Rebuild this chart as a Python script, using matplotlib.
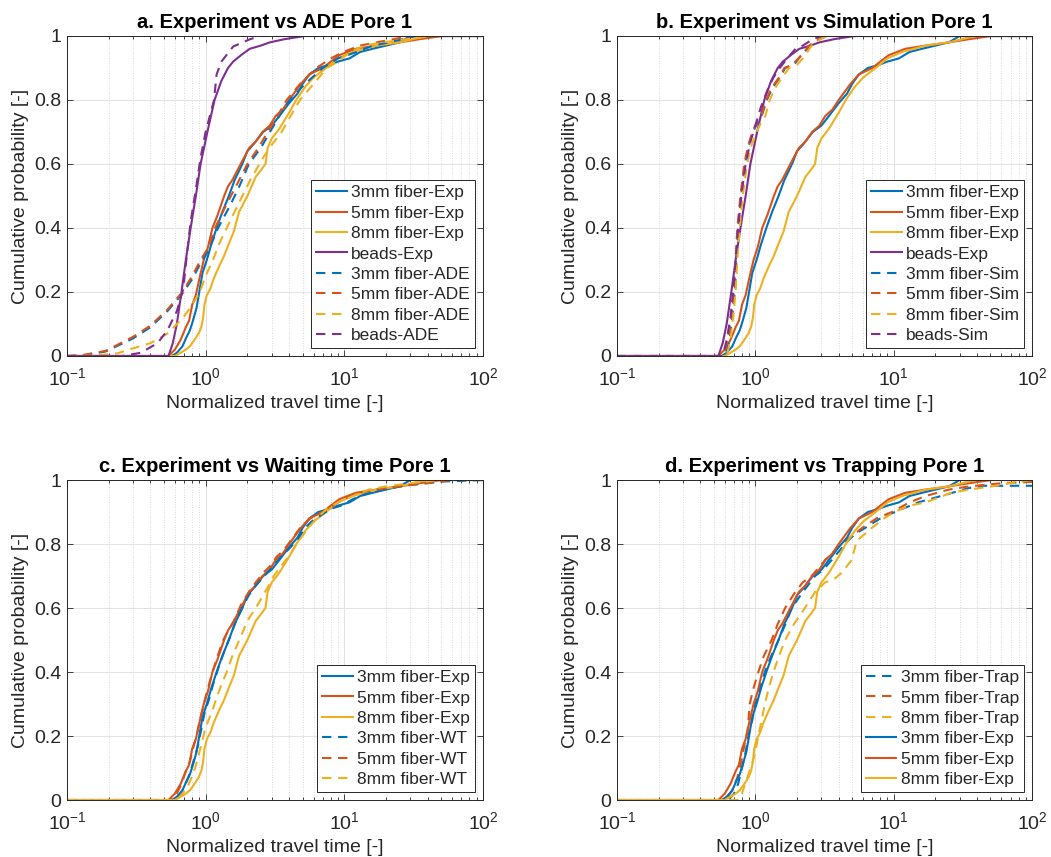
import matplotlib

matplotlib.use("Agg")
import matplotlib.pyplot as plt  # noqa: E402
from matplotlib.ticker import FixedLocator, LogLocator, NullFormatter  # noqa: E402

# MATLAB default line colours
BLUE = "#0072BD"
RED = "#D95319"
YELLOW = "#EDB120"
PURPLE = "#7E2F8E"
INK = "#262626"
DASH = (0, (4.5, 3.2))

plt.rcParams["font.family"] = ["Liberation Sans", "DejaVu Sans"]
plt.rcParams["mathtext.fontset"] = "custom"
plt.rcParams["mathtext.rm"] = "Liberation Sans"
plt.rcParams["mathtext.it"] = "Liberation Sans:italic"
plt.rcParams["mathtext.bf"] = "Liberation Sans:bold"

# ---- experimental travel-time CDFs (same in every panel) ----
exp3_x = [0.1, 0.57, 0.62, 0.68, 0.73, 0.77, 0.81, 0.86, 0.90, 0.95, 1.02, 1.10,
          1.20, 1.32, 1.47, 1.62, 1.84, 2.0, 2.2, 2.6, 3.0, 3.4, 4.0, 4.6, 5.0,
          5.6, 6.5, 7.8, 9.0, 10.9, 13.0, 16.0, 20, 25, 30, 100]
exp3_F = [0, 0, 0.01, 0.03, 0.06, 0.08, 0.11, 0.15, 0.20, 0.26, 0.30, 0.35,
          0.40, 0.45, 0.50, 0.55, 0.60, 0.64, 0.66, 0.70, 0.72, 0.75, 0.79, 0.82,
          0.85, 0.88, 0.90, 0.91, 0.92, 0.93, 0.95, 0.96, 0.97, 0.98, 1.0, 1.0]

exp5_x = [0.1, 0.54, 0.60, 0.66, 0.72, 0.76, 0.80, 0.85, 0.90, 0.97, 1.04, 1.12,
          1.22, 1.36, 1.45, 1.56, 1.79, 2.06, 2.3, 2.57, 2.9, 3.2, 3.6, 4.0,
          4.86, 5.6, 7.0, 8.0, 9.2, 12.1, 17, 25, 35, 51, 100]
exp5_F = [0, 0, 0.02, 0.05, 0.09, 0.11, 0.16, 0.19, 0.24, 0.30, 0.34, 0.40,
          0.44, 0.50, 0.53, 0.55, 0.60, 0.65, 0.67, 0.70, 0.72, 0.75, 0.77, 0.80,
          0.85, 0.88, 0.90, 0.92, 0.94, 0.96, 0.97, 0.98, 0.99, 1.0, 1.0]

exp8_x = [0.1, 0.60, 0.66, 0.72, 0.77, 0.83, 0.89, 0.93, 0.96, 0.98, 1.02, 1.08,
          1.14, 1.25, 1.35, 1.5, 1.6, 1.74, 2.0, 2.3, 2.5, 2.7, 2.8, 3.0, 3.4,
          4.0, 4.5, 5.2, 6.0, 7.4, 9.0, 11.5, 14, 17, 25, 39, 100]
exp8_F = [0, 0, 0.01, 0.02, 0.03, 0.05, 0.07, 0.09, 0.12, 0.16, 0.19, 0.21,
          0.24, 0.28, 0.31, 0.36, 0.39, 0.45, 0.50, 0.56, 0.58, 0.60, 0.65, 0.68,
          0.71, 0.76, 0.80, 0.84, 0.87, 0.90, 0.93, 0.95, 0.96, 0.97, 0.98, 1.0,
          1.0]

beads_x = [0.1, 0.54, 0.58, 0.62, 0.67, 0.72, 0.78, 0.85, 0.92, 1.03, 1.16,
           1.30, 1.45, 1.58, 1.8, 2.08, 2.5, 2.9, 3.7, 5.2, 100]
beads_F = [0, 0, 0.04, 0.10, 0.20, 0.30, 0.40, 0.50, 0.60, 0.70, 0.80, 0.86,
           0.90, 0.92, 0.94, 0.96, 0.97, 0.98, 0.99, 1.0, 1.0]

# ---- ADE model ----
ade3_x = [0.1, 0.13, 0.19, 0.30, 0.40, 0.53, 0.68, 0.80, 0.92, 1.05, 1.23, 1.5,
          1.75, 2.05, 2.5, 2.91, 3.4, 4.06, 5.2, 7.0, 9.0, 12.3, 16, 21, 33, 100]
ade3_F = [0, 0.002, 0.014, 0.055, 0.09, 0.14, 0.195, 0.24, 0.29, 0.33, 0.40,
          0.47, 0.53, 0.60, 0.65, 0.70, 0.75, 0.80, 0.85, 0.90, 0.93, 0.95, 0.97,
          0.98, 1.0, 1.0]

ade5_x = [0.1, 0.13, 0.19, 0.30, 0.40, 0.53, 0.68, 0.80, 0.92, 1.05, 1.17, 1.4,
          1.7, 2.0, 2.4, 2.8, 3.3, 3.84, 4.8, 6.3, 8.0, 9.8, 13, 17, 30, 100]
ade5_F = [0, 0.003, 0.016, 0.06, 0.095, 0.145, 0.20, 0.25, 0.30, 0.34, 0.40,
          0.47, 0.54, 0.60, 0.65, 0.70, 0.75, 0.80, 0.85, 0.90, 0.93, 0.95, 0.97,
          0.98, 1.0, 1.0]

ade8_x = [0.1, 0.15, 0.23, 0.30, 0.40, 0.53, 0.69, 0.80, 0.91, 1.0, 1.13, 1.25,
          1.42, 1.7, 2.1, 2.6, 3.0, 3.53, 4.1, 4.79, 6.0, 7.5, 9.0, 11, 14, 19,
          28, 44, 100]
ade8_F = [0, 0.001, 0.008, 0.024, 0.04, 0.07, 0.12, 0.16, 0.20, 0.25, 0.30,
          0.35, 0.40, 0.47, 0.55, 0.62, 0.66, 0.70, 0.75, 0.80, 0.85, 0.90, 0.92,
          0.95, 0.97, 0.98, 0.99, 1.0, 1.0]

adeb_x = [0.1, 0.25, 0.34, 0.45, 0.53, 0.62, 0.69, 0.73, 0.78, 0.85, 0.92, 1.0,
          1.15, 1.2, 1.3, 1.58, 2.09, 2.5, 100]
adeb_F = [0, 0.0, 0.01, 0.04, 0.08, 0.14, 0.21, 0.31, 0.42, 0.52, 0.62, 0.70,
          0.80, 0.88, 0.92, 0.967, 0.99, 1.0, 1.0]

# ---- pore-scale simulation ----
sim_F = [0, 0, 0.05, 0.12, 0.2, 0.3, 0.4, 0.5, 0.6, 0.66, 0.70, 0.73, 0.75,
         0.80, 0.83, 0.85, 0.87, 0.90, 0.91, 0.935, 0.97, 0.99, 1.0, 1.0]
sim3_x = [0.1, 0.60, 0.65, 0.68, 0.71, 0.73, 0.75, 0.79, 0.84, 0.90, 0.96,
          1.04, 1.11, 1.21, 1.30, 1.39, 1.50, 1.64, 1.9, 2.1, 2.48, 2.9, 3.3, 100]
sim5_x = [0.1, 0.59, 0.63, 0.67, 0.70, 0.72, 0.74, 0.78, 0.83, 0.89, 0.95,
          1.02, 1.10, 1.20, 1.28, 1.37, 1.48, 1.62, 1.85, 2.1, 2.45, 2.85, 3.3,
          100]
sim8_x = [0.1, 0.62, 0.66, 0.69, 0.72, 0.74, 0.77, 0.81, 0.87, 0.94, 1.02,
          1.10, 1.18, 1.27, 1.36, 1.45, 1.56, 1.75, 2.0, 2.25, 2.55, 2.95, 3.3,
          100]
simb_x = [0.1, 0.58, 0.62, 0.66, 0.69, 0.72, 0.75, 0.79, 0.85, 0.92, 1.0, 1.1,
          1.22, 1.35, 1.5, 1.7, 1.95, 2.2, 2.6, 3.0, 100]
simb_F = [0, 0, 0.05, 0.12, 0.2, 0.3, 0.4, 0.5, 0.6, 0.67, 0.72, 0.78, 0.83,
          0.87, 0.90, 0.93, 0.96, 0.97, 0.99, 1.0, 1.0]

# ---- waiting-time model ----
wt3_x = [0.1, 0.60, 0.66, 0.70, 0.75, 0.79, 0.83, 0.88, 0.93, 0.98, 1.05, 1.13,
         1.23, 1.35, 1.50, 1.66, 1.88, 2.05, 2.3, 2.65, 3.05, 3.5, 4.1, 4.7,
         5.2, 5.8, 6.8, 8.0, 9.5, 11.5, 14, 17, 22, 30, 50, 100]
wt3_F = [0, 0, 0.02, 0.04, 0.07, 0.10, 0.13, 0.17, 0.22, 0.27, 0.31, 0.36,
         0.41, 0.46, 0.51, 0.56, 0.61, 0.64, 0.67, 0.70, 0.73, 0.76, 0.79, 0.82,
         0.85, 0.87, 0.89, 0.91, 0.92, 0.94, 0.955, 0.965, 0.975, 0.985, 0.995,
         1.0]

wt5_x = [0.1, 0.56, 0.62, 0.67, 0.72, 0.77, 0.81, 0.86, 0.91, 0.97, 1.04, 1.12,
         1.22, 1.34, 1.46, 1.60, 1.80, 2.05, 2.3, 2.6, 2.9, 3.25, 3.65, 4.1,
         4.8, 5.7, 7.0, 8.3, 9.8, 12.5, 17, 25, 40, 60, 100]
wt5_F = [0, 0, 0.02, 0.05, 0.09, 0.12, 0.16, 0.20, 0.25, 0.30, 0.35, 0.40,
         0.45, 0.50, 0.53, 0.56, 0.61, 0.65, 0.68, 0.71, 0.73, 0.76, 0.78, 0.81,
         0.85, 0.88, 0.90, 0.92, 0.94, 0.96, 0.97, 0.98, 0.99, 1.0, 1.0]

wt8_x = [0.1, 0.62, 0.68, 0.74, 0.79, 0.84, 0.89, 0.94, 0.99, 1.05, 1.12, 1.2,
         1.3, 1.42, 1.56, 1.75, 2.0, 2.3, 2.6, 2.85, 3.1, 3.5, 4.1, 4.7, 5.5,
         6.3, 7.5, 9.0, 11.5, 15, 20, 30, 50, 100]
wt8_F = [0, 0, 0.02, 0.04, 0.07, 0.10, 0.14, 0.18, 0.22, 0.25, 0.28, 0.32,
         0.36, 0.40, 0.45, 0.50, 0.56, 0.60, 0.64, 0.67, 0.70, 0.73, 0.77, 0.81,
         0.85, 0.88, 0.91, 0.93, 0.95, 0.97, 0.98, 0.99, 1.0, 1.0]

# ---- trapping model ----
trap3_x = [0.1, 0.64, 0.70, 0.75, 0.80, 0.85, 0.89, 0.95, 1.0, 1.08, 1.17,
           1.3, 1.47, 1.65, 1.83, 2.2, 2.7, 3.1, 3.56, 4.45, 5.2, 6.2, 8.0,
           10.2, 15, 22, 35, 45, 100]
trap3_F = [0, 0, 0.02, 0.05, 0.10, 0.15, 0.20, 0.25, 0.30, 0.35, 0.40, 0.45,
           0.50, 0.55, 0.60, 0.65, 0.70, 0.72, 0.75, 0.80, 0.83, 0.85, 0.88,
           0.90, 0.93, 0.95, 0.975, 0.982, 0.982]

trap5_x = [0.1, 0.61, 0.68, 0.74, 0.79, 0.84, 0.88, 0.91, 0.97, 1.05, 1.15,
           1.31, 1.45, 1.64, 1.94, 2.2, 2.55, 3.2, 4.2, 5.9, 7.5, 9.7, 13, 17,
           25, 35, 60, 100]
trap5_F = [0, 0, 0.03, 0.07, 0.12, 0.18, 0.22, 0.30, 0.35, 0.40, 0.45, 0.50,
           0.55, 0.60, 0.65, 0.68, 0.70, 0.75, 0.80, 0.85, 0.88, 0.90, 0.93,
           0.95, 0.97, 0.98, 0.99, 0.994]

trap8_x = [0.1, 0.75, 0.80, 0.84, 0.89, 0.94, 1.0, 1.05, 1.11, 1.17, 1.25,
           1.35, 1.48, 1.64, 1.9, 2.28, 2.7, 3.19, 3.7, 4.2, 4.97, 5.4, 6.94,
           8.5, 10.1, 13, 17, 26, 35, 51, 70, 100]
trap8_F = [0, 0, 0.02, 0.05, 0.08, 0.11, 0.15, 0.20, 0.25, 0.30, 0.35, 0.40,
           0.45, 0.50, 0.55, 0.60, 0.65, 0.68, 0.69, 0.71, 0.75, 0.81, 0.85,
           0.88, 0.90, 0.92, 0.93, 0.96, 0.97, 0.98, 0.99, 1.0]

EXP = [
    (exp3_x, exp3_F, BLUE, "3mm fiber-Exp"),
    (exp5_x, exp5_F, RED, "5mm fiber-Exp"),
    (exp8_x, exp8_F, YELLOW, "8mm fiber-Exp"),
]

PANELS = [
    ("a. Experiment vs ADE Pore 1",
     [(x, F, c, "-", lab) for x, F, c, lab in EXP]
     + [(beads_x, beads_F, PURPLE, "-", "beads-Exp"),
        (ade3_x, ade3_F, BLUE, DASH, "3mm fiber-ADE"),
        (ade5_x, ade5_F, RED, DASH, "5mm fiber-ADE"),
        (ade8_x, ade8_F, YELLOW, DASH, "8mm fiber-ADE"),
        (adeb_x, adeb_F, PURPLE, DASH, "beads-ADE")]),
    ("b. Experiment vs Simulation Pore 1",
     [(x, F, c, "-", lab) for x, F, c, lab in EXP]
     + [(beads_x, beads_F, PURPLE, "-", "beads-Exp"),
        (sim3_x, sim_F, BLUE, DASH, "3mm fiber-Sim"),
        (sim5_x, sim_F, RED, DASH, "5mm fiber-Sim"),
        (sim8_x, sim_F, YELLOW, DASH, "8mm fiber-Sim"),
        (simb_x, simb_F, PURPLE, DASH, "beads-Sim")]),
    ("c. Experiment vs Waiting time Pore 1",
     [(x, F, c, "-", lab) for x, F, c, lab in EXP]
     + [(wt3_x, wt3_F, BLUE, DASH, "3mm fiber-WT"),
        (wt5_x, wt5_F, RED, DASH, "5mm fiber-WT"),
        (wt8_x, wt8_F, YELLOW, DASH, "8mm fiber-WT")]),
    ("d. Experiment vs Trapping Pore 1",
     [(trap3_x, trap3_F, BLUE, DASH, "3mm fiber-Trap"),
      (trap5_x, trap5_F, RED, DASH, "5mm fiber-Trap"),
      (trap8_x, trap8_F, YELLOW, DASH, "8mm fiber-Trap")]
     + [(x, F, c, "-", lab) for x, F, c, lab in EXP]),
]

# axes boxes in figure fractions: left, bottom, width, height
BOXES = [
    (0.0637, 0.5846, 0.3958, 0.3734),
    (0.5871, 0.5846, 0.3949, 0.3734),
    (0.0637, 0.0665, 0.3958, 0.3734),
    (0.5871, 0.0665, 0.3949, 0.3734),
]


def _style(ax):
    ax.set_xscale("log")
    ax.set_xlim(0.1, 100)
    ax.set_ylim(0, 1)
    ax.xaxis.set_major_locator(LogLocator(base=10, numticks=10))
    ax.xaxis.set_minor_locator(
        LogLocator(base=10, subs=range(2, 10), numticks=10))
    ax.xaxis.set_minor_formatter(NullFormatter())
    ax.yaxis.set_major_locator(FixedLocator([0, 0.2, 0.4, 0.6, 0.8, 1.0]))
    ax.set_yticklabels(["0", "0.2", "0.4", "0.6", "0.8", "1"])
    ax.tick_params(which="both", direction="in", top=True, right=True,
                   colors=INK, labelsize=14, width=0.6)
    ax.tick_params(which="major", length=4.5)
    ax.tick_params(which="minor", length=2.5)
    ax.tick_params(axis="x", which="major", pad=8)
    ax.tick_params(axis="y", which="major", pad=4)
    for s in ax.spines.values():
        s.set_color(INK)
        s.set_linewidth(0.7)
    ax.set_axisbelow(True)
    ax.grid(which="major", color="#e3e3e3", lw=0.7)
    ax.grid(which="minor", axis="x", color="#cfcfcf", lw=0.6, ls=(0, (1, 2)))


fig = plt.figure(figsize=(10.51, 8.57), dpi=100)
for (title, series), box in zip(PANELS, BOXES):
    ax = fig.add_axes(box)
    _style(ax)
    for x, F, c, ls, lab in series:
        ax.plot(x, F, color=c, ls=ls, lw=1.5, label=lab)
    ax.set_title(title, fontsize=14.5, fontweight="bold", color="black",
                 pad=6)
    ax.set_xlabel("Normalized travel time [-]", fontsize=14, color=INK,
                  labelpad=4)
    ax.set_ylabel("Cumulative probability [-]", fontsize=14, color=INK,
                  labelpad=4)
    leg = ax.legend(loc="lower right", fontsize=12.5, frameon=True,
                    fancybox=False, edgecolor=INK, framealpha=1,
                    borderaxespad=0.45, handlelength=1.75, handletextpad=0.25,
                    labelspacing=0.3, borderpad=0.3)
    leg.get_frame().set_linewidth(0.7)
    for t in leg.get_texts():
        t.set_color(INK)

fig.savefig("out.png")
